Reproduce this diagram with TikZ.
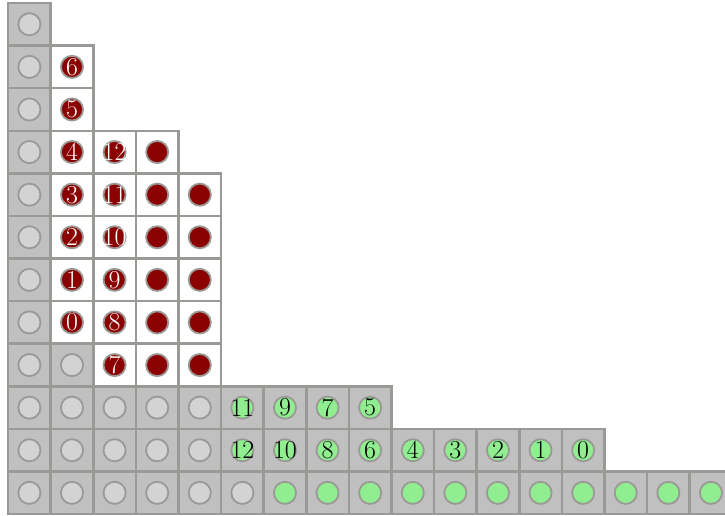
\documentclass[tikz,border=0pt]{standalone}
\usepackage{tikz}
\usetikzlibrary{positioning}
\definecolor{cellgray}{RGB}{192, 192, 192}
\definecolor{edgegray}{RGB}{154, 153, 149}
\definecolor{dotgray}{RGB}{211, 211, 211}
\definecolor{dotred}{RGB}{139, 0, 0}
\definecolor{dotgreen}{RGB}{144, 238, 144}

\tikzset{
  graycell/.style={draw=edgegray, fill=cellgray, line width=1.7pt, minimum size=1cm, inner sep=0pt},
  whitecell/.style={graycell, fill=white},
  offdot/.style={circle, draw=edgegray, fill=dotgray, line width=1.2pt, minimum size=0.52cm, inner sep=0pt},
  reddot/.style={offdot, fill=dotred},
  greendot/.style={offdot, fill=dotgreen},
  whitenum/.style={font=\LARGE, text=white, inner sep=0pt},
  blacknum/.style={font=\LARGE, text=black, inner sep=0pt}
}

\begin{document}
\begin{tikzpicture}
  \useasboundingbox (-0.19,-0.04) rectangle (16.83,12.07);

  % grey cells with empty dots
  \foreach \r in {0,...,11} {
    \node[graycell] (g-0-\r) at (0.5,\r+0.5) {};
    \node[offdot] (d-0-\r) at (g-0-\r) {};
  }
  \foreach \c/\top in {1/3, 2/2, 3/2, 4/2, 5/0}
    \foreach \r in {0,...,\top} {
      \node[graycell] (g-\c-\r) at (\c+0.5,\r+0.5) {};
      \node[offdot] (d-\c-\r) at (g-\c-\r) {};
    }

  % white cells, red numbered dots
  \foreach \c/\r/\n in {1/4/0, 1/5/1, 1/6/2, 1/7/3, 1/8/4, 1/9/5, 1/10/6,
                        2/3/7, 2/4/8, 2/5/9, 2/6/10, 2/7/11, 2/8/12} {
    \node[whitecell] (g-\c-\r) at (\c+0.5,\r+0.5) {};
    \node[reddot, label={[whitenum]center:\n}] (d-\c-\r) at (g-\c-\r) {};
  }
  % white cells, red plain dots
  \foreach \c/\top in {3/8, 4/7}
    \foreach \r in {3,...,\top} {
      \node[whitecell] (g-\c-\r) at (\c+0.5,\r+0.5) {};
      \node[reddot] (d-\c-\r) at (g-\c-\r) {};
    }

  % grey cells, green numbered dots
  \foreach \c/\r/\n in {5/2/11, 6/2/9, 7/2/7, 8/2/5,
                        5/1/12, 6/1/10, 7/1/8, 8/1/6, 9/1/4, 10/1/3, 11/1/2, 12/1/1, 13/1/0} {
    \node[graycell] (g-\c-\r) at (\c+0.5,\r+0.5) {};
    \node[greendot, label={[blacknum]center:\n}] (d-\c-\r) at (g-\c-\r) {};
  }
  % grey cells, green plain dots
  \foreach \c in {6,...,16} {
    \node[graycell] (g-\c-0) at (\c+0.5,0.5) {};
    \node[greendot] (d-\c-0) at (g-\c-0) {};
  }
\end{tikzpicture}
\end{document}
